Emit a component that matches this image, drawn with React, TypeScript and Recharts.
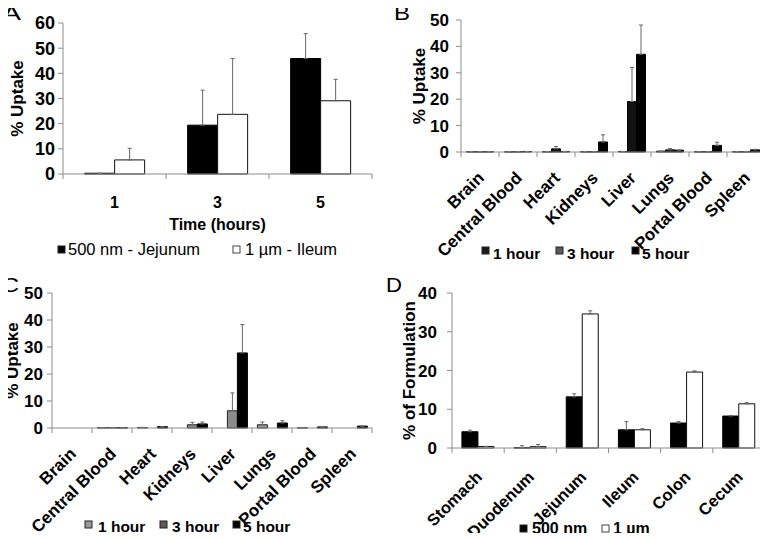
import React from "react";
import { BarChart, Bar, XAxis, YAxis, ErrorBar } from "recharts";

const FONT = '"Liberation Sans", Arial, Helvetica, sans-serif';
const AXIS = "#8c8c8c";
const ERR = "#666";

// A: uptake vs time
const hours = ["1", "3", "5"];
const jejunum500 = [0.3, 19.4, 45.9];
const jejunum500Err = [0, 13.9, 9.9];
const ileum1um = [5.6, 23.7, 29.1];
const ileum1umErr = [4.6, 22.2, 8.5];
const ticksA = [0, 10, 20, 30, 40, 50, 60];

// B / C: organ distribution
const organs = ["Brain", "Central Blood", "Heart", "Kidneys", "Liver", "Lungs", "Portal Blood", "Spleen"];
const b1h = [0.1, 0.05, 0.1, 0.1, 0.2, 0.3, 0.1, 0.1];
const b1hErr = [0, 0, 0, 0, 0, 0, 0, 0];
const b3h = [0.1, 0.1, 1.2, 0.1, 19.1, 0.8, 0.1, 0.1];
const b3hErr = [0, 0, 0.9, 0, 12.9, 0.5, 0, 0];
const b5h = [0.1, 0.2, 0.2, 3.8, 37.0, 0.7, 2.5, 0.8];
const b5hErr = [0, 0, 0, 2.7, 11.1, 0, 1.2, 0.2];

const c1h = [0, 0.15, 0.2, 0, 0, 1.2, 0.1, 0];
const c1hErr = [0, 0, 0, 0, 0, 1.0, 0, 0];
const c3h = [0, 0.15, 0, 1.2, 6.4, 0, 0, 0];
const c3hErr = [0, 0, 0, 0.9, 6.6, 0, 0, 0];
const c5h = [0, 0.1, 0.5, 1.5, 27.8, 1.85, 0.4, 0.7];
const c5hErr = [0, 0, 0, 0.7, 10.5, 0.85, 0, 0];
const ticksBC = [0, 10, 20, 30, 40, 50];

// D: GI tract
const segments = ["Stomach", "Duodenum", "Jejunum", "Ileum", "Colon", "Cecum"];
const d500 = [4.2, 0.05, 13.2, 4.7, 6.45, 8.25];
const d500Err = [0.4, 0.55, 0.8, 2.1, 0.35, 0.15];
const d1um = [0.4, 0.35, 34.6, 4.7, 19.6, 11.4];
const d1umErr = [0, 0.55, 0.8, 0.3, 0.3, 0.3];
const ticksD = [0, 10, 20, 30, 40];

type Series = { key: string; values: number[]; err: number[]; fill: string; stroke: string };

function buildRows(cats: string[], series: Series[]) {
  return cats.map((name, i) => {
    const row: Record<string, any> = { name };
    series.forEach((s) => {
      row[s.key] = s.values[i];
      row[s.key + "Err"] = [0, s.err[i]];
    });
    return row;
  });
}

// category label plus the small boundary marks under the axis
function CatTick(props: any) {
  const { x, y, payload, index, band, count, slanted, dx = 0, dy = 0, fontSize = 16 } = props;
  const marks = [x - band / 2];
  if (index === count - 1) marks.push(x + band / 2);
  const textStyle = { fontFamily: FONT, fontWeight: "bold" as const, fontSize, fill: "#000" };
  const tx = x + dx;
  const ty = y + dy;
  return (
    <g>
      {marks.map((m) => (
        <line key={m} x1={m} x2={m} y1={y} y2={y + 5} stroke={AXIS} />
      ))}
      {slanted ? (
        <text x={tx} y={ty} transform={`rotate(-45 ${tx} ${ty})`} textAnchor="end" style={textStyle}>
          {payload.value}
        </text>
      ) : (
        <text x={tx} y={ty} textAnchor="middle" style={textStyle}>
          {payload.value}
        </text>
      )}
    </g>
  );
}

function Panel(props: any) {
  const {
    left, top, height, right, yWidth, yMax, ticks, yTickMargin, yFont, yLabel, yLabelX,
    axisHeight, gap, cats, series, slanted, tickDx, tickDy, tickFont, xTitle,
  } = props;
  const width = 384;
  const band = (width - right - yWidth) / cats.length;
  const data = buildRows(cats, series);
  const labelStyle = { fontFamily: FONT, fontWeight: "bold", fontSize: 17, fill: "#000", textAnchor: "middle" };
  return (
    <div style={{ position: "absolute", left, top, width, height }}>
      <BarChart
        width={width}
        height={height}
        data={data}
        margin={{ top: props.marginTop, right, left: 0, bottom: 0 }}
        barCategoryGap={gap}
        barGap={0}
        style={{ fontFamily: FONT }}
      >
        <XAxis
          dataKey="name"
          height={axisHeight}
          interval={0}
          tickSize={0}
          tickMargin={0}
          tickLine={false}
          axisLine={{ stroke: AXIS }}
          tick={
            <CatTick band={band} count={cats.length} slanted={slanted} dx={tickDx} dy={tickDy} fontSize={tickFont} />
          }
          label={
            xTitle
              ? { value: xTitle, position: "insideTop", offset: 45, style: { ...labelStyle, fontSize: 16 } }
              : undefined
          }
        />
        <YAxis
          width={yWidth}
          domain={[0, yMax]}
          ticks={ticks}
          interval={0}
          tickSize={5}
          tickMargin={yTickMargin}
          axisLine={{ stroke: AXIS }}
          tickLine={{ stroke: AXIS }}
          tick={{ fontFamily: FONT, fontWeight: "bold", fontSize: yFont, fill: "#000" }}
          label={{ value: yLabel, angle: -90, position: "insideLeft", offset: yLabelX, style: labelStyle }}
        />
        {series.map((s: Series) => (
          <Bar key={s.key} dataKey={s.key} fill={s.fill} stroke={s.stroke} strokeWidth={1} isAnimationActive={false}>
            <ErrorBar dataKey={s.key + "Err"} width={2} stroke={ERR} strokeWidth={1} isAnimationActive={false} />
          </Bar>
        ))}
      </BarChart>
    </div>
  );
}

function Key({ x, y, fill, textX, baseline, label, size = 15.5, weight = "bold" }: any) {
  return (
    <g>
      <rect x={x} y={y} width={7} height={7} fill={fill} stroke={fill === "#fff" ? "#444" : "#222"} strokeWidth={1} />
      <text x={textX} y={baseline} style={{ fontFamily: FONT, fontSize: size, fontWeight: weight, fill: "#000" }}>
        {label}
      </text>
    </g>
  );
}

function Letter({ x, y, w, children }: any) {
  return (
    <text x={x} y={y} textLength={w} lengthAdjust="spacingAndGlyphs" style={{ fontFamily: FONT, fontSize: 21, fill: "#000" }}>
      {children}
    </text>
  );
}

export default function App() {
  const seriesA: Series[] = [
    { key: "j500", values: jejunum500, err: jejunum500Err, fill: "#000", stroke: "#000" },
    { key: "i1um", values: ileum1um, err: ileum1umErr, fill: "#fff", stroke: "#111" },
  ];
  const seriesB: Series[] = [
    { key: "h1", values: b1h, err: b1hErr, fill: "#1a1a1a", stroke: "#000" },
    { key: "h3", values: b3h, err: b3hErr, fill: "#111", stroke: "#000" },
    { key: "h5", values: b5h, err: b5hErr, fill: "#000", stroke: "#000" },
  ];
  const seriesC: Series[] = [
    { key: "h1", values: c1h, err: c1hErr, fill: "#9a9a9a", stroke: "#222" },
    { key: "h3", values: c3h, err: c3hErr, fill: "#8c8c8c", stroke: "#222" },
    { key: "h5", values: c5h, err: c5hErr, fill: "#000", stroke: "#000" },
  ];
  const seriesD: Series[] = [
    { key: "n500", values: d500, err: d500Err, fill: "#000", stroke: "#000" },
    { key: "u1", values: d1um, err: d1umErr, fill: "#fff", stroke: "#111" },
  ];

  return (
    <div style={{ position: "relative", width: 768, height: 541, margin: -8, background: "#fff", fontFamily: FONT }}>
      <Panel
        left={0} top={0} height={270} marginTop={23} right={12} yWidth={63} yMax={60} ticks={ticksA}
        yTickMargin={3} yFont={18} yLabel="% Uptake" yLabelX={17} axisHeight={96} gap="21%"
        cats={hours} series={seriesA} slanted={false} tickDx={0} tickDy={34} tickFont={16} xTitle="Time (hours)"
      />
      <Panel
        left={384} top={0} height={270} marginTop={20} right={3} yWidth={77} yMax={50} ticks={ticksBC}
        yTickMargin={7} yFont={17} yLabel="% Uptake" yLabelX={35} axisHeight={118} gap="14.5%"
        cats={organs} series={seriesB} slanted tickDx={5} tickDy={27} tickFont={17}
      />
      <Panel
        left={0} top={270} height={271} marginTop={23} right={12} yWidth={52} yMax={50} ticks={ticksBC}
        yTickMargin={4} yFont={17} yLabel="% Uptake" yLabelX={12} axisHeight={113} gap="13.5%"
        cats={organs} series={seriesC} slanted tickDx={5} tickDy={27} tickFont={17}
      />
      <Panel
        left={384} top={270} height={271} marginTop={23} right={3} yWidth={68} yMax={40} ticks={ticksD}
        yTickMargin={10} yFont={17} yLabel="% of Formulation" yLabelX={25} axisHeight={93} gap="19%"
        cats={segments} series={seriesD} slanted tickDx={5} tickDy={30} tickFont={16.5}
      />

      <svg width={768} height={541} style={{ position: "absolute", left: 0, top: 0, pointerEvents: "none" }}>
        <Letter x={2} y={20} w={19}>A</Letter>
        <Letter x={394} y={20} w={16}>B</Letter>
        <Letter x={2} y={291.5} w={17}>C</Letter>
        <Letter x={386} y={291.5} w={16}>D</Letter>

        <Key x={58} y={246} fill="#000" textX={68} baseline={255} label="500 nm - Jejunum" size={16.5} weight="normal" />
        <Key x={233} y={246} fill="#fff" textX={245} baseline={255} label="1 µm - Ileum" size={16.5} weight="normal" />

        <Key x={482} y={247} fill="#1a1a1a" textX={493} baseline={259} label="1 hour" />
        <Key x={556} y={247} fill="#5a5a5a" textX={567} baseline={259} label="3 hour" />
        <Key x={632} y={247} fill="#000" textX={642} baseline={259} label="5 hour" />

        <Key x={85} y={521} fill="#9a9a9a" textX={98} baseline={531.5} label="1 hour" />
        <Key x={160} y={521} fill="#5a5a5a" textX={172} baseline={531.5} label="3 hour" />
        <Key x={233} y={521} fill="#000" textX={243} baseline={531.5} label="5 hour" />

        <Key x={520} y={525} fill="#000" textX={532} baseline={533.5} label="500 nm" size={16} />
        <Key x={602} y={525} fill="#fff" textX={613} baseline={533.5} label="1 µm" size={16} />
      </svg>
    </div>
  );
}
